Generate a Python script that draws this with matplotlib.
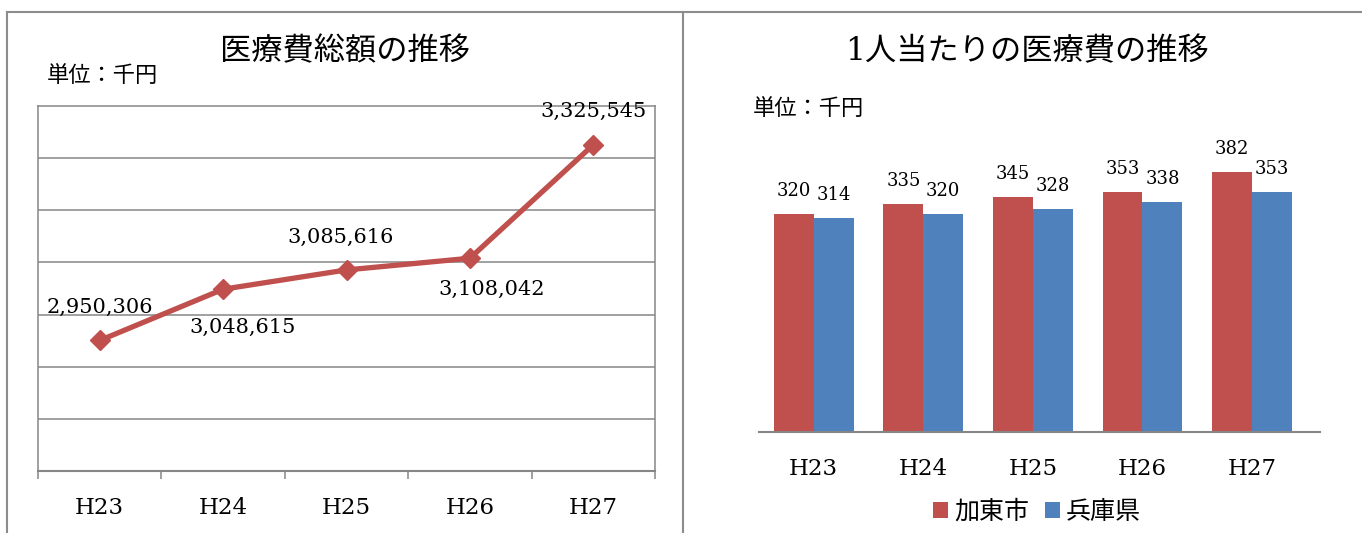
import matplotlib
matplotlib.use("Agg")
import matplotlib.pyplot as plt
from matplotlib.lines import Line2D

plt.rcParams['font.family'] = ['DejaVu Serif', 'Noto Sans CJK JP']

years = ["H23", "H24", "H25", "H26", "H27"]
total_cost = [2950306, 3048615, 3085616, 3108042, 3325545]
total_labels = ["2,950,306", "3,048,615", "3,085,616", "3,108,042", "3,325,545"]
kato_city = [320, 335, 345, 353, 382]
hyogo_pref = [314, 320, 328, 338, 353]
series_names = ["加東市", "兵庫県"]

RED = "#C0504D"
BLUE = "#4F81BD"
GRID = "#868686"
W, H = 1362, 533

fig = plt.figure(figsize=(W / 100, H / 100), dpi=100)

def box(x0, y0, x1, y1):
    return [x0 / W, 1 - y1 / H, (x1 - x0) / W, (y1 - y0) / H]

# panel borders
for xs, ys in [([7, 7], [12, 533]), ([7, 1362], [12, 12]), ([683, 683], [12, 533])]:
    fig.add_artist(Line2D([x / W for x in xs], [1 - y / H for y in ys],
                          color="#8c8c8c", lw=1.5))

# ---------- left: line chart ----------
ax1 = fig.add_axes(box(38, 106, 655, 471))
x = list(range(len(years)))
ax1.plot(x, total_cost, color=RED, lw=3.8, marker='D', markersize=10,
         markerfacecolor=RED, markeredgecolor=RED, zorder=3)
ax1.set_xlim(-0.5, len(years) - 0.5)
ax1.set_ylim(2700000, 3400000)
ax1.set_yticks([2800000, 2900000, 3000000, 3100000, 3200000, 3300000])
ax1.yaxis.grid(True, color=GRID, lw=1.1)
ax1.tick_params(axis='y', left=False, labelleft=False)
ax1.set_xticks(x)
ax1.set_xticklabels(years, fontsize=16.5)
ax1.tick_params(axis='x', length=0, pad=19)
ax1.set_xticks([i - 0.5 for i in range(len(years) + 1)], minor=True)
ax1.tick_params(axis='x', which='minor', length=6, width=1.1, color=GRID, direction='out')
for s in ax1.spines.values():
    s.set_color(GRID)
    s.set_linewidth(1.1)
ax1.spines['bottom'].set_linewidth(1.5)
ax1.set_axisbelow(True)
offsets = [(0, 33), (19, -38), (-6, 33), (22, -31), (0, 33)]
for xi, yi, lab, off in zip(x, total_cost, total_labels, offsets):
    ax1.annotate(lab, (xi, yi), xytext=off, textcoords='offset pixels',
                 ha='center', va='center', fontsize=15, annotation_clip=False)

fig.text(345 / W, 1 - 52 / H, "医療費総額の推移", fontsize=22.5, ha='center', va='center')
fig.text(47 / W, 1 - 76 / H, "単位：千円", fontsize=16, ha='left', va='center')

# ---------- right: bar chart ----------
ax2 = fig.add_axes(box(759, 160, 1320, 432))
bw = 0.364
xr = list(range(len(years)))
b1 = ax2.bar([i - bw / 2 for i in xr], kato_city, width=bw, color=RED, label=series_names[0])
b2 = ax2.bar([i + bw / 2 for i in xr], hyogo_pref, width=bw, color=BLUE, label=series_names[1])
ax2.set_xlim(-0.5, 4.62)
ax2.set_ylim(0, 400)
for s in ['left', 'right', 'top']:
    ax2.spines[s].set_visible(False)
ax2.spines['bottom'].set_color(GRID)
ax2.spines['bottom'].set_linewidth(1.5)
ax2.set_yticks([])
ax2.set_xticks(xr)
ax2.set_xticklabels(years, fontsize=16.5)
ax2.tick_params(axis='x', length=0, pad=19)
for bars in (b1, b2):
    for rect in bars:
        h = rect.get_height()
        ax2.annotate(f"{h:g}", (rect.get_x() + rect.get_width() / 2, h),
                     xytext=(0, 23), textcoords='offset pixels',
                     ha='center', va='center', fontsize=13, annotation_clip=False)

fig.text(1027 / W, 1 - 52 / H, "1人当たりの医療費の推移", fontsize=22.5, ha='center', va='center')
fig.text(753 / W, 1 - 109 / H, "単位：千円", fontsize=16, ha='left', va='center')

fig.legend(handles=[b1, b2], labels=series_names, loc='center',
           bbox_to_anchor=(1037 / W, 1 - 512 / H), ncol=2, frameon=False,
           fontsize=18, handlelength=0.6, handleheight=0.6, handletextpad=0.25,
           columnspacing=0.6, borderaxespad=0)

fig.savefig("out.png", dpi=100)
